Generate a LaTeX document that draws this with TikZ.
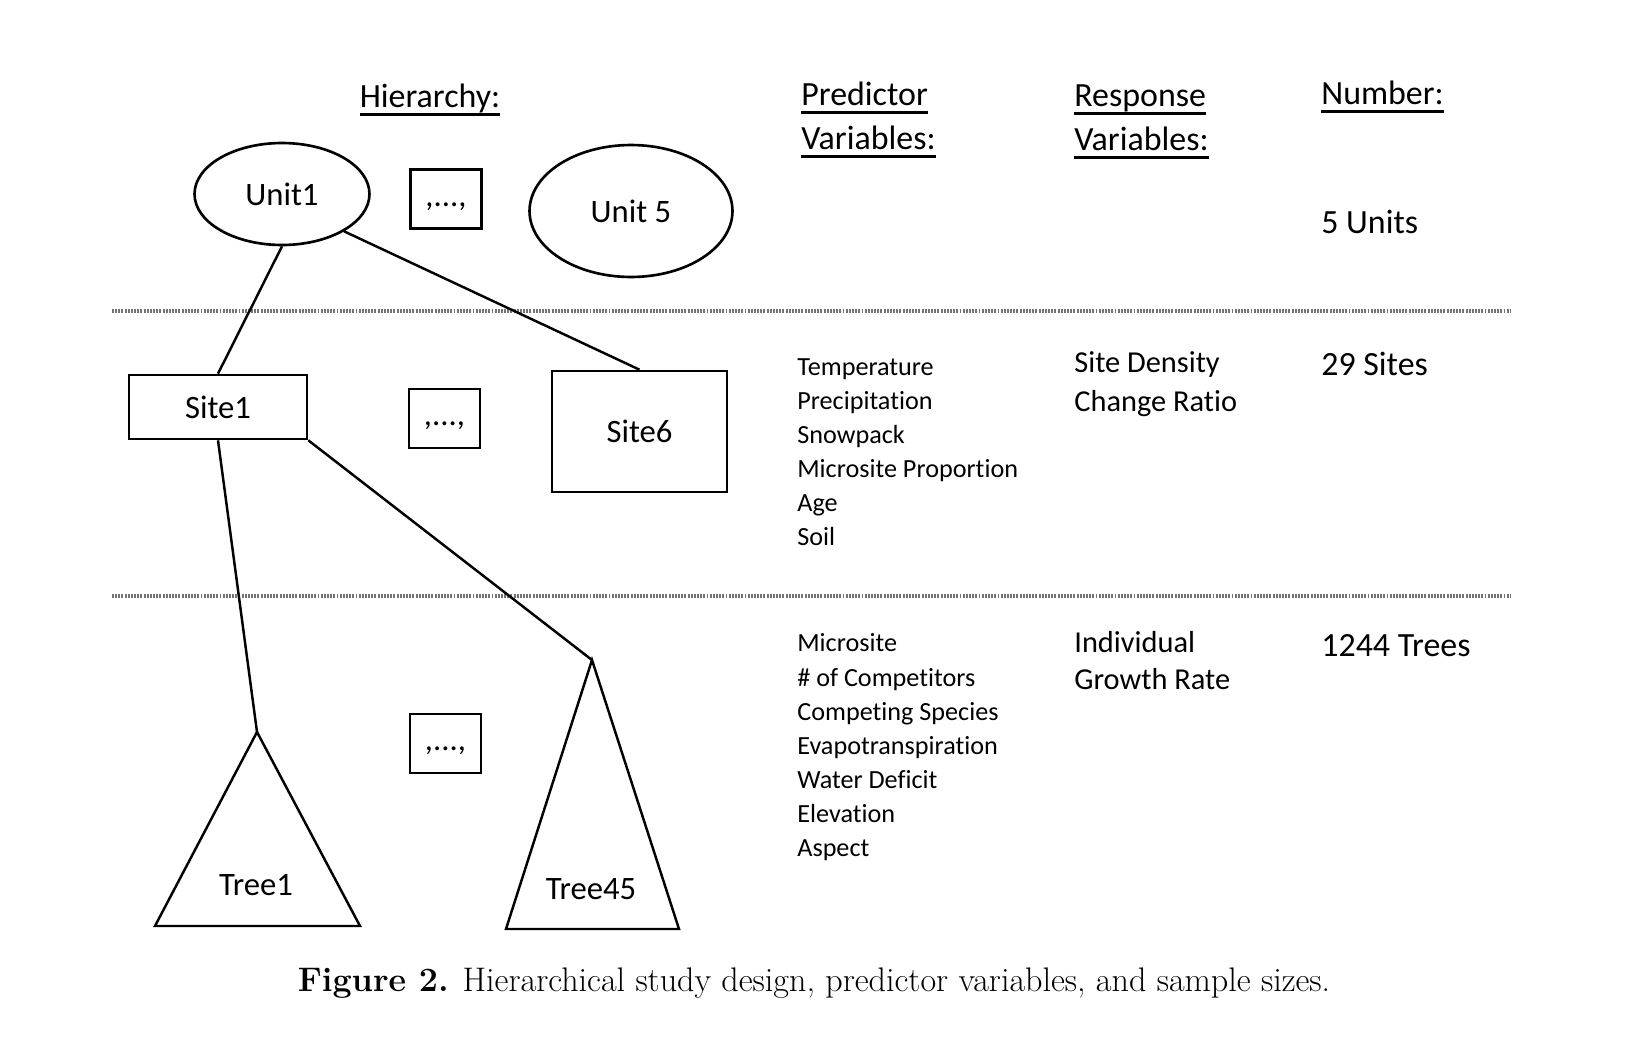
\documentclass[tikz,border=0pt]{standalone}
\usepackage{fontspec}
\usepackage{tikz}
\usetikzlibrary{shapes.geometric,positioning}
\newfontfamily\diagfont{Carlito}[Ligatures=NoCommon]
\newcommand\hdrline[1]{\leavevmode\setbox0=\hbox{#1}\rlap{\rule[-0.23em]{\wd0}{1.6pt}}\box0}

\begin{document}
\begin{tikzpicture}[x=0.02cm,y=-0.02cm,
  lvl/.style={draw,line width=1.5pt,inner sep=0pt,font=\diagfont\fontsize{18.6}{22}\selectfont},
  unitnode/.style={lvl,ellipse},
  sitenode/.style={lvl,rectangle},
  dotsbox/.style={lvl,minimum width=14.2mm,minimum height=11.8mm,text height=1.05em,text depth=0.2em},
  link/.style={line width=1.4pt},
  sep/.style={draw=black!55,line width=2.4pt,dash pattern=on 1.1pt off 0.7pt},
  hdr/.style={inner sep=0pt,anchor=mid west,font=\diagfont\fontsize{19.3}{23}\selectfont},
  item/.style={inner sep=0pt,anchor=mid west,font=\diagfont\fontsize{14.9}{18}\selectfont},
  resp/.style={inner sep=0pt,anchor=mid west,font=\diagfont\fontsize{17.3}{20}\selectfont}]
  \useasboundingbox (0,0) rectangle (1636,1038);

  \node[hdr,anchor=mid] (hier) at (430,104) {\hdrline{Hierarchy:}};
  \node[hdr] (pred)  at (801,102)  {\hdrline{Predictor}};
  \node[hdr] (predb) at (801,146) {\hdrline{Variables:}};
  \node[hdr] (resp)  at (1074,103)  {\hdrline{Response}};
  \node[hdr] (respb) at (1074,147) {\hdrline{Variables:}};
  \node[hdr] (num)   at (1321,101) {\hdrline{Number:}};

  \node[unitnode,minimum width=35mm,minimum height=20.4mm] (unit1) at (282,194) {Unit1};
  \node[dotsbox] (dotsa) at (446,199) {,...,};
  \node[unitnode,minimum width=40.6mm,minimum height=26.4mm] (unit5) at (631,211) {Unit 5};
  \node[hdr] (nunits) at (1321,229.5) {5 Units};

  \coordinate (sepa1) at (112,311);
  \coordinate (sepa2) at (1510,311);
  \draw[sep] (sepa1) -- (sepa2);

  \node[sitenode,minimum width=35.6mm,minimum height=12.8mm] (site1) at (218,407) {Site1};
  \node[dotsbox] (dotsb) at (444.5,418.5) {,...,};
  \node[sitenode,minimum width=35mm,minimum height=24.2mm] (site6) at (639.5,431.5) {Site6};

  \foreach \v [count=\i] in {Temperature,Precipitation,Snowpack,Microsite Proportion,Age,Soil}
    \node[item] (pv\i) at (797,{371.7+34*(\i-1)}) {\v};
  \node[resp] (dens)  at (1074,368.5) {Site Density};
  \node[resp] (ratio) at (1074,407.5) {Change Ratio};
  \node[hdr] (nsites) at (1321,371.5) {29 Sites};

  \coordinate (sepb1) at (112,596);
  \coordinate (sepb2) at (1510,596);
  \draw[sep] (sepb1) -- (sepb2);

  \coordinate (t1top) at (257,732);
  \coordinate (t45top) at (592,660);
  \draw[link] (t1top) -- ++(-102,194) -- ++(205,0) -- cycle;
  \draw[link] (t45top) -- ++(-86,269) -- ++(173,0) -- cycle;
  \node[lvl,draw=none] (tree1) at (256,885) {Tree1};
  \node[lvl,draw=none] (tree45) at (591,889) {Tree45};
  \node[dotsbox] (dotsc) at (445.5,743.5) {,...,};

  \foreach \v [count=\i] in {Microsite,\# of Competitors,Competing Species,Evapotranspiration,Water Deficit,Elevation,Aspect}
    \node[item] (qv\i) at (797,{648.2+34.1*(\i-1)}) {\v};
  \node[resp] (indiv)  at (1074,648.5) {Individual};
  \node[resp] (growth) at (1074,685.5) {Growth Rate};
  \node[hdr] (ntrees) at (1321,652.5) {1244 Trees};

  \draw[link] (unit1.south) -- (site1.north);
  \draw[link] (unit1.-31) -- (site6.north);
  \draw[link] (site1.south) -- (t1top);
  \draw[link] (site1.south east) -- (t45top);

  \node[font=\fontsize{19.4}{23}\selectfont] (caption) at (814,983)
    {\textbf{Figure 2.} Hierarchical study design, predictor variables, and sample sizes.};
\end{tikzpicture}
\end{document}
